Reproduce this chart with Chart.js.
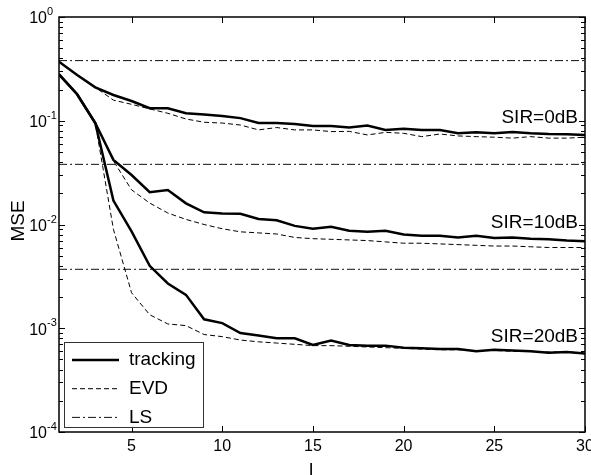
<!DOCTYPE html>
<html>
<head>
<meta charset="utf-8">
<script src="https://cdn.jsdelivr.net/npm/chart.js@4.4.1/dist/chart.umd.min.js"></script>
<style>
  html, body { margin: 0; padding: 0; background: #fff; }
  canvas { display: block; }
</style>
</head>
<body>
<canvas id="chart" width="591" height="475"></canvas>
<script>
// MSE vs l, three SIR levels: tracking / EVD curves, plus LS reference levels
const L = [1,2,3,4,5,6,7,8,9,10,11,12,13,14,15,16,17,18,19,20,21,22,23,24,25,26,27,28,29,30];

const trackSIR0 = [0.37,0.276,0.21,0.177,0.155,0.132,0.132,0.118,0.115,0.111,0.106,0.095,0.095,0.093,0.089,
                   0.089,0.086,0.090,0.0816,0.0835,0.0816,0.0816,0.0757,0.0773,0.0757,0.078,0.0757,0.0745,0.074,0.073];
const evdSIR0   = [0.37,0.276,0.21,0.158,0.144,0.13,0.118,0.104,0.0967,0.095,0.091,0.0816,0.086,0.0816,0.0816,
                   0.0786,0.079,0.073,0.0773,0.0757,0.0703,0.0745,0.0714,0.0703,0.0694,0.068,0.0703,0.068,0.068,0.0694];

const trackSIR10 = [0.28,0.18,0.095,0.042,0.030,0.0205,0.0215,0.016,0.0131,0.0128,0.0127,0.0113,0.011,0.0097,0.0091,
                    0.0095,0.0087,0.0085,0.0087,0.0080,0.0078,0.0078,0.0075,0.0078,0.0074,0.0075,0.0073,0.0072,0.0070,0.0069];
const evdSIR10   = [0.28,0.18,0.095,0.041,0.0216,0.0161,0.0129,0.0112,0.0100,0.0091,0.0085,0.0083,0.0081,0.0075,0.0073,
                    0.0072,0.0071,0.0070,0.0068,0.0066,0.0066,0.0065,0.0064,0.0063,0.0062,0.0062,0.0061,0.0060,0.0060,0.0060];

const trackSIR20 = [0.28,0.18,0.095,0.017,0.0086,0.0040,0.0027,0.0021,0.00122,0.00112,0.0009,0.00085,0.0008,0.0008,0.00069,
                    0.00076,0.00069,0.00068,0.00068,0.00065,0.00064,0.00063,0.00063,0.0006,0.00062,0.00061,0.0006,0.00058,0.00059,0.00057];
const evdSIR20   = [0.28,0.18,0.095,0.009,0.0022,0.00135,0.0011,0.00106,0.00087,0.00083,0.00077,0.00074,0.00072,0.0007,0.00068,
                    0.00068,0.00067,0.00066,0.00065,0.00064,0.00063,0.00062,0.00062,0.00061,0.00061,0.0006,0.0006,0.00059,0.00059,0.00058];

const lsLevels = [0.38, 0.038, 0.0037];

const xTicks = [5, 10, 15, 20, 25, 30];
const yExponents = [0, -1, -2, -3, -4];

const sirLabels = ['SIR=0dB', 'SIR=10dB', 'SIR=20dB'];
const sirLabelY = [0.107, 0.0103, 0.00082];

const legendNames = ['tracking', 'EVD', 'LS'];

const FONT = '"Liberation Sans", Arial, sans-serif';
const SOLID = { borderColor: '#000', borderWidth: 2.5, borderDash: [] };
const DASH = { borderColor: '#000', borderWidth: 1, borderDash: [5, 3] };
const DASHDOT = { borderColor: '#111', borderWidth: 1, borderDash: [8, 3, 2, 3] };

const pts = arr => arr.map((v, i) => ({ x: L[i], y: v }));
const flat = v => [{ x: L[0], y: v }, { x: L[L.length - 1], y: v }];

const datasets = [];
[[trackSIR0, evdSIR0], [trackSIR10, evdSIR10], [trackSIR20, evdSIR20]].forEach(([t, e]) => {
  datasets.push({ label: 'tracking', data: pts(t), ...SOLID });
  datasets.push({ label: 'EVD', data: pts(e), ...DASH });
});
lsLevels.forEach(v => datasets.push({ label: 'LS', data: flat(v), ...DASHDOT }));

const decor = {
  id: 'decor',
  afterDatasetsDraw(chart) {
    const { ctx, chartArea: a, scales: { x, y } } = chart;
    ctx.save();

    // ticks (inward, both sides)
    ctx.strokeStyle = '#000';
    ctx.lineWidth = 1;
    ctx.setLineDash([]);
    ctx.beginPath();
    xTicks.forEach(v => {
      const px = Math.round(x.getPixelForValue(v)) + 0.5;
      ctx.moveTo(px, a.bottom); ctx.lineTo(px, a.bottom - 6);
      ctx.moveTo(px, a.top); ctx.lineTo(px, a.top + 6);
    });
    for (let e = -4; e <= 0; e++) {
      for (let m = 1; m < 10; m++) {
        const v = m * Math.pow(10, e);
        if (v > 1) break;
        const py = Math.round(y.getPixelForValue(v)) + 0.5;
        const len = m === 1 ? 6 : 4;
        ctx.moveTo(a.left, py); ctx.lineTo(a.left + len, py);
        ctx.moveTo(a.right, py); ctx.lineTo(a.right - len, py);
      }
    }
    ctx.stroke();

    // frame
    ctx.lineWidth = 1.5;
    ctx.strokeRect(a.left, a.top, a.right - a.left, a.bottom - a.top);

    ctx.fillStyle = '#000';
    // x tick labels
    ctx.font = '16px ' + FONT;
    ctx.textAlign = 'center';
    ctx.textBaseline = 'middle';
    xTicks.forEach(v => ctx.fillText(String(v), x.getPixelForValue(v), a.bottom + 15));

    // y tick labels 10^e
    yExponents.forEach(e => {
      const py = y.getPixelForValue(Math.pow(10, e));
      const baseX = a.left - 12;
      ctx.font = '16px ' + FONT;
      ctx.textAlign = 'right';
      ctx.textBaseline = 'middle';
      ctx.fillText('10', baseX, py + 2);
      ctx.font = '11px ' + FONT;
      ctx.textAlign = 'left';
      ctx.fillText(String(e), baseX, py - 5);
    });

    // axis titles
    ctx.font = '19px ' + FONT;
    ctx.textAlign = 'center';
    ctx.textBaseline = 'middle';
    ctx.fillText('l', 311, 471);
    ctx.save();
    ctx.translate(19, 221);
    ctx.rotate(-Math.PI / 2);
    ctx.fillText('MSE', 0, 0);
    ctx.restore();

    // SIR annotations
    ctx.font = '19px ' + FONT;
    ctx.textAlign = 'right';
    sirLabels.forEach((s, i) => ctx.fillText(s, a.right - 7, y.getPixelForValue(sirLabelY[i])));

    // legend box
    const bx = 64, by = 342, bw = 139, bh = 85;
    ctx.fillStyle = '#fff';
    ctx.fillRect(bx, by, bw, bh);
    ctx.strokeStyle = '#333';
    ctx.lineWidth = 1;
    ctx.strokeRect(bx + 0.5, by + 0.5, bw, bh);
    const styles = [SOLID, DASH, DASHDOT];
    legendNames.forEach((n, i) => {
      const ry = by + 18 + i * 28.7;
      const st = styles[i];
      ctx.strokeStyle = st.borderColor;
      ctx.lineWidth = st.borderWidth;
      ctx.setLineDash(st.borderDash);
      ctx.beginPath();
      ctx.moveTo(bx + 8, ry); ctx.lineTo(bx + 55, ry);
      ctx.stroke();
      ctx.setLineDash([]);
      ctx.fillStyle = '#000';
      ctx.font = '19px ' + FONT;
      ctx.textAlign = 'left';
      ctx.textBaseline = 'middle';
      ctx.fillText(n, bx + 65, ry);
    });

    ctx.restore();
  }
};

new Chart(document.getElementById('chart'), {
  type: 'line',
  data: { datasets },
  options: {
    responsive: false,
    animation: false,
    devicePixelRatio: 1,
    layout: { padding: { left: 59, right: 6, top: 17, bottom: 43 } },
    elements: { point: { radius: 0 }, line: { tension: 0 } },
    plugins: { legend: { display: false }, tooltip: { enabled: false } },
    scales: {
      x: { type: 'linear', min: 1, max: 30, display: false },
      y: { type: 'logarithmic', min: 1e-4, max: 1, display: false }
    }
  },
  plugins: [decor]
});
</script>
</body>
</html>
